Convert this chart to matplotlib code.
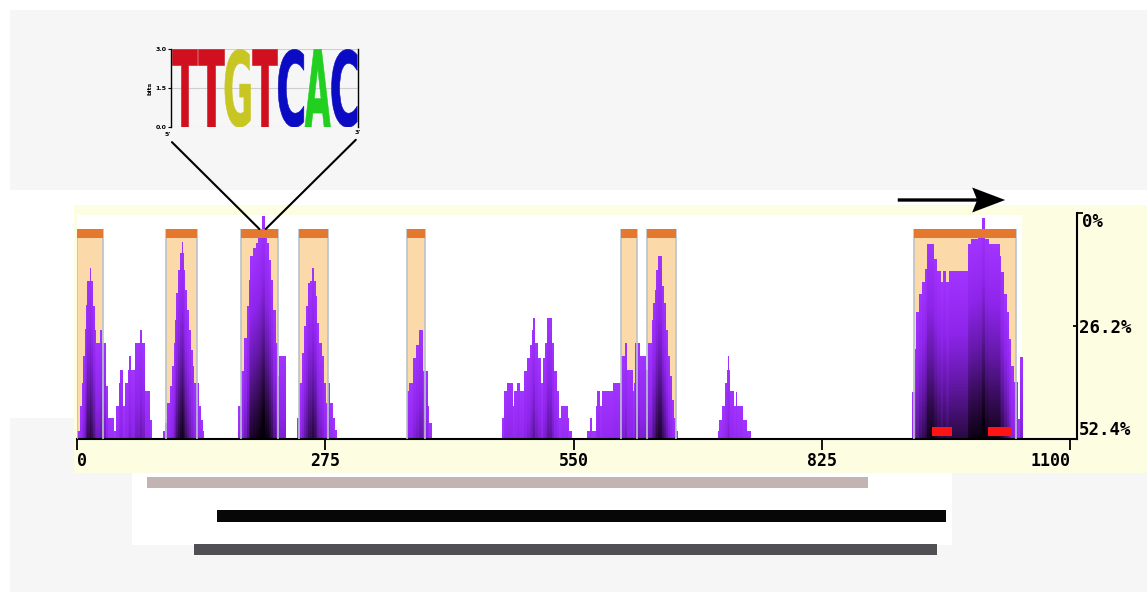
import numpy as np
import matplotlib
matplotlib.use("Agg")
import matplotlib.pyplot as plt
from matplotlib.patches import Rectangle, FancyArrowPatch, ConnectionPatch, PathPatch, Polygon
from matplotlib.colors import LinearSegmentedColormap
from matplotlib.textpath import TextPath
from matplotlib.font_manager import FontProperties
from matplotlib.transforms import Affine2D, ScaledTranslation

# ---------------- data ----------------
x_ticks = [0, 275, 550, 825, 1100]
x_tick_labels = ["0", "275", "550", "825", "1100"]
pct_ticks = [0.0, 26.2, 52.4]
pct_labels = ["0%", "26.2%", "52.4%"]

covered_end = 1047
baseline_coverage = 1.5

# coverage steps: (start, end, height)
cluster_1 = [(0, 3, 8), (3, 5, 33), (5, 7, 56), (7, 9, 83), (9, 10, 110), (10, 11, 134),
             (11, 14, 158), (14, 16, 171), (16, 18, 158), (18, 20, 133), (20, 21, 109),
             (21, 26, 96), (26, 28, 109), (28, 32, 96), (32, 34, 53), (34, 41, 21), (41, 43, 8)]
cluster_2 = [(43, 46, 33), (46, 48, 56), (48, 51, 69), (51, 53, 33), (53, 56, 56), (56, 58, 69),
             (58, 60, 83), (60, 64, 69), (64, 70, 96), (70, 72, 109), (72, 75, 96), (75, 81, 48),
             (81, 83, 19), (95, 97, 8)]
cluster_3 = [(97, 100, 16), (100, 103, 36), (103, 105, 53), (105, 107, 73), (107, 109, 96),
             (109, 110, 119), (110, 112, 146), (112, 114, 169), (114, 116, 186), (116, 117, 197),
             (117, 118, 186), (118, 120, 169), (120, 122, 149), (122, 124, 129), (124, 126, 109),
             (126, 128, 89), (128, 130, 73), (130, 135, 56), (135, 137, 33), (137, 139, 19),
             (139, 141, 8)]
cluster_4 = [(178, 182, 33), (182, 185, 68), (185, 188, 101), (188, 190, 133), (190, 192, 159),
             (192, 195, 183), (195, 198, 191), (198, 200, 196), (200, 203, 201), (203, 205, 209),
             (205, 208, 223), (208, 210, 201), (210, 213, 196), (213, 215, 179), (215, 217, 159),
             (217, 220, 129), (220, 222, 96), (222, 224, 63), (224, 231, 83)]
cluster_5 = [(243, 246, 21), (246, 249, 56), (249, 251, 86), (251, 254, 113), (254, 256, 133),
             (256, 258, 156), (258, 260, 158), (260, 262, 171), (262, 264, 158), (264, 266, 143),
             (266, 268, 116), (268, 271, 96), (271, 273, 83), (273, 276, 56), (276, 278, 36),
             (278, 280, 56), (280, 283, 36), (283, 286, 21), (286, 288, 9)]
cluster_6 = [(365, 368, 48), (368, 372, 56), (372, 375, 81), (375, 379, 94), (379, 383, 109),
             (383, 388, 68), (388, 390, 33), (390, 393, 16)]
cluster_7 = [(470, 473, 21), (473, 476, 48), (476, 482, 56), (482, 484, 33), (484, 487, 48),
             (487, 490, 56), (490, 495, 48), (495, 498, 68), (498, 501, 81), (501, 504, 94),
             (504, 505, 109), (505, 507, 121), (507, 510, 96), (510, 513, 81), (513, 516, 56),
             (516, 518, 81), (518, 520, 96), (520, 526, 121), (526, 528, 96), (528, 531, 68),
             (531, 533, 48), (533, 536, 21), (536, 543, 33), (543, 545, 21), (545, 548, 8)]
cluster_8 = [(565, 568, 8), (568, 570, 21), (570, 574, 8), (574, 576, 33), (576, 579, 48),
             (579, 581, 33), (581, 593, 48), (593, 602, 56), (602, 607, 83), (607, 609, 96),
             (609, 615, 69), (615, 616, 48), (616, 618, 56), (618, 623, 96), (623, 630, 83),
             (630, 632, 69), (632, 636, 96), (636, 638, 119), (638, 640, 136), (640, 641, 149),
             (641, 643, 169), (643, 647, 183), (647, 648, 169), (648, 650, 153), (650, 652, 136),
             (652, 654, 109), (654, 656, 83), (656, 658, 63), (658, 661, 39), (661, 663, 21),
             (663, 665, 8)]
cluster_9 = [(709, 711, 8), (711, 714, 19), (714, 717, 33), (717, 719, 56), (719, 720, 69),
             (720, 722, 83), (722, 723, 69), (723, 727, 48), (727, 729, 33), (729, 731, 47),
             (731, 737, 33), (737, 741, 19), (741, 746, 8)]
cluster_10 = [(924, 927, 47), (927, 929, 90), (929, 932, 127), (932, 935, 145), (935, 938, 157),
              (938, 941, 170), (941, 949, 195), (949, 952, 180), (952, 956, 168), (956, 959, 157),
              (959, 962, 168), (962, 965, 157), (965, 986, 168), (986, 989, 195), (989, 997, 200),
              (997, 1002, 203), (1002, 1005, 221), (1005, 1009, 200), (1009, 1021, 195),
              (1021, 1023, 183), (1023, 1026, 167), (1026, 1029, 145), (1029, 1032, 127),
              (1032, 1034, 100), (1034, 1037, 73), (1037, 1042, 57), (1042, 1044, 20),
              (1044, 1047, 82)]
clusters = [cluster_1, cluster_2, cluster_3, cluster_4, cluster_5,
            cluster_6, cluster_7, cluster_8, cluster_9, cluster_10]

region_starts = [0, 99, 182, 246, 365, 602, 631, 927]
region_ends = [29, 133, 223, 278, 385, 620, 663, 1040]
region_top = 201
region_cap = 9

marker_starts = [947, 1009]
marker_ends = [969, 1034]
marker_low, marker_high = 3, 12

motif_letters = ["T", "T", "G", "T", "C", "A", "C"]
motif_bits = [3.0, 3.0, 3.0, 3.0, 3.0, 3.0, 3.0]
motif_start, motif_end = 202, 209

gene_start, gene_end = 909, 1028

read_starts = [78, 155, 130]
read_ends = [876, 963, 952]
read_colors = ["#c3b4b4", "#070707", "#4f4f54"]

# ---------------- layout helpers ----------------
W, H = 1147, 592


def fx(px):
    return px / W


def fy(py):
    return 1 - py / H


fig = plt.figure(figsize=(W / 100, H / 100), dpi=100)
fig.patch.set_facecolor("white")


def fig_rect(x0, y0, x1, y1, color, z=-10):
    fig.add_artist(Rectangle((x0 / W, 1 - y1 / H), (x1 - x0) / W, (y1 - y0) / H,
                             transform=fig.transFigure, facecolor=color,
                             edgecolor="none", zorder=z))


fig_rect(10, 10, 1147, 190, "#f6f6f6")
fig_rect(10, 418, 1147, 592, "#f6f6f6")
fig_rect(74, 205, 1147, 473, "#fdfde2")
fig_rect(132, 473, 952, 545, "white")

# ---------------- main coverage axes ----------------
ax_left, ax_right, ax_top, ax_bottom = 77, 1076.5, 213, 439
ax = fig.add_axes([fx(ax_left), fy(ax_bottom), (ax_right - ax_left) / W, (ax_bottom - ax_top) / H])
ax.set_facecolor("none")
XMAX, YMAX = 1107, 226

ax.add_patch(Rectangle((0, 0), covered_end, 224, facecolor="white", edgecolor="none", zorder=0))
for s, e in zip(region_starts, region_ends):
    ax.add_patch(Rectangle((s, 0), e - s, region_top, facecolor="#fcd9a8",
                           edgecolor="none", zorder=1))
    ax.add_patch(Rectangle((s, region_top), e - s, region_cap, facecolor="#e4782e",
                           edgecolor="none", zorder=4))
    ax.vlines([s, e], 0, region_top + region_cap, colors="#b8c3cb", lw=1.2, zorder=3)

# coverage histogram rendered with depth gradient
res = 0.5
xs = np.arange(0, covered_end, res) + res / 2
cov = np.full(xs.shape, baseline_coverage)
for cl in clusters:
    for s, e, h in cl:
        cov[(xs >= s) & (xs < e)] = h
ys = np.arange(0, YMAX, res) + res / 2
depth = cov[None, :] - ys[:, None]
img = np.ma.masked_where(depth <= 0, np.clip(depth / 205.0, 0, 1))
cmap = LinearSegmentedColormap.from_list(
    "cov", [(0.0, "#a234ff"), (0.3, "#8e25ea"), (0.55, "#6318a6"),
            (0.8, "#2d0a48"), (1.0, "#07000b")])
ax.imshow(img, extent=[0, covered_end, 0, YMAX], origin="lower", aspect="auto",
          cmap=cmap, vmin=0, vmax=1, interpolation="nearest", zorder=2)

for s, e in zip(marker_starts, marker_ends):
    ax.add_patch(Rectangle((s, marker_low), e - s, marker_high - marker_low,
                           facecolor="#ff1414", edgecolor="none", zorder=5))

ax.set_xlim(0, XMAX)
ax.set_ylim(0, YMAX)

# right percentage axis
ax2 = ax.twinx()
ax2.set_ylim(pct_ticks[-1], pct_ticks[0])

for sp in ["top", "left", "right"]:
    ax.spines[sp].set_visible(False)
ax.spines["bottom"].set_linewidth(1.5)
ax.set_yticks([])
ax.tick_params(axis="y", left=False, labelleft=False, right=False, labelright=False)
ax.set_xticks(x_ticks, x_tick_labels, fontfamily="DejaVu Sans Mono", fontweight="bold",
              fontsize=12)
ax.tick_params(axis="x", direction="out", length=8, width=1.3, pad=1)
xl = ax.get_xticklabels()
xl[0].set_horizontalalignment("left")
xl[-1].set_horizontalalignment("right")

for sp in ["top", "left", "bottom"]:
    ax2.spines[sp].set_visible(False)
ax2.spines["right"].set_linewidth(1.5)
ax2.set_yticks(pct_ticks[1:], pct_labels[1:], fontfamily="DejaVu Sans Mono",
               fontweight="bold", fontsize=12.5)
ax2.set_yticks(pct_ticks[:1], pct_labels[:1], minor=True, fontfamily="DejaVu Sans Mono",
               fontweight="bold", fontsize=12.5)
ax2.tick_params(axis="y", which="major", direction="in", length=3, width=1.3, pad=2)
ax2.tick_params(axis="y", which="minor", direction="out", length=4, width=1.3, pad=0)
maj = ax2.get_yticklabels()
mino = ax2.get_yticklabels(minor=True)
maj[-1].set_verticalalignment("bottom")
mino[0].set_verticalalignment("top")

# gene direction arrow (shaft + stealth-style head anchored at the gene end)
arrow_y = 239
shaft = FancyArrowPatch((gene_start, arrow_y), (gene_end, arrow_y), transform=ax.transData,
                        arrowstyle="-", lw=2.4, color="black", clip_on=False,
                        shrinkA=0, shrinkB=18, capstyle="butt", zorder=6)
ax.add_patch(shaft)
head_shape = [(0.0, 0.0), (-0.33, 0.125), (-0.28, 0.0), (-0.33, -0.125)]  # inches
head_trans = fig.dpi_scale_trans + ScaledTranslation(gene_end, arrow_y, ax.transData)
ax.add_patch(Polygon(head_shape, closed=True, transform=head_trans, facecolor="black",
                     edgecolor="none", clip_on=False, zorder=7))

# ---------------- reads / alignments ----------------
axr = fig.add_axes([fx(ax_left), fy(566), (ax_right - ax_left) / W, 100 / H])
axr.set_xlim(0, XMAX)
axr.set_ylim(2.4925, -0.4925)
axr.axis("off")
rows = np.arange(len(read_starts))
axr.barh(rows, np.array(read_ends) - np.array(read_starts), left=read_starts,
         height=0.343, color=read_colors)

# ---------------- motif logo ----------------
axl = fig.add_axes([fx(171), fy(127.3), 186.7 / W, 78 / H])
axl.set_facecolor("none")
axl.set_xlim(0, len(motif_letters))
axl.set_ylim(0, 3.0)
for v in [0, 1.5, 3.0]:
    axl.axhline(v, color="#cfcfcf", lw=0.8, zorder=0)
letter_colors = {"T": "#d0101e", "G": "#c8c622", "C": "#0b0bc4", "A": "#20cf20"}
fp = FontProperties(family="DejaVu Sans", weight="bold")
for i, (ch, bits) in enumerate(zip(motif_letters, motif_bits)):
    tp = TextPath((0, 0), ch, size=1, prop=fp)
    bb = tp.get_extents()
    w = 0.96
    tr = (Affine2D().translate(-bb.x0, -bb.y0)
          .scale(w / bb.width, bits / bb.height)
          .translate(i + (1 - w) / 2, 0))
    axl.add_patch(PathPatch(tr.transform_path(tp), facecolor=letter_colors[ch],
                            edgecolor=letter_colors[ch], lw=0.4, zorder=2))
axl.spines["top"].set_visible(False)
axl.spines["bottom"].set_visible(False)
axl.spines["left"].set_linewidth(1.0)
axl.spines["right"].set_linewidth(1.0)
axl.set_xticks([])
axl.set_yticks([0, 1.5, 3.0], ["0.0", "1.5", "3.0"], fontweight="bold", fontsize=4.5)
axl.tick_params(axis="y", length=2, width=0.8, pad=1)
axl.set_ylabel("bits", fontsize=4.5, fontweight="bold", labelpad=2)
axl.text(-0.015, -0.09, "5'", transform=axl.transAxes, fontsize=4.5, fontweight="bold",
         ha="center", va="center")
axl.text(1.0, -0.07, "3'", transform=axl.transAxes, fontsize=4.5, fontweight="bold",
         ha="center", va="center")

for xyA, xB in [((0.005, -0.19), motif_start), ((0.99, -0.16), motif_end)]:
    con = ConnectionPatch(xyA=xyA, coordsA=axl.transAxes,
                          xyB=(xB, region_top + region_cap), coordsB=ax.transData,
                          color="black", lw=1.5, zorder=7)
    fig.add_artist(con)

fig.savefig("out.png", dpi=100)
